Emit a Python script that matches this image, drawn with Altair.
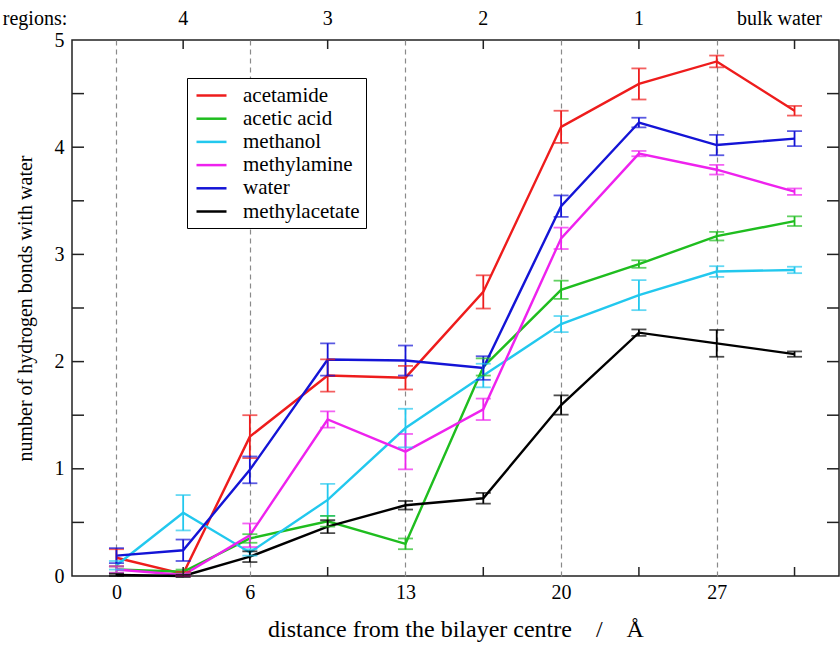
import altair as alt
import pandas as pd

# distance from the bilayer centre (Å) at which each species was sampled
distance = [0, 3, 6, 9.5, 13, 16.5, 20, 23.5, 27, 30.5]

series_names = ["acetamide", "acetic acid", "methanol", "methylamine", "water", "methylacetate"]
series_colors = ["#ee1c1c", "#1fbd1f", "#22c8ee", "#ee22ee", "#1414d6", "#000000"]

# mean number of hydrogen bonds with water and its error
acetamide = [0.17, 0.02, 1.30, 1.87, 1.85, 2.65, 4.19, 4.59, 4.80, 4.34]
acetamide_err = [0.08, 0.02, 0.20, 0.15, 0.11, 0.155, 0.15, 0.145, 0.055, 0.045]
acetic_acid = [0.06, 0.04, 0.35, 0.51, 0.30, 1.95, 2.67, 2.91, 3.17, 3.31]
acetic_acid_err = [0.03, 0.02, 0.04, 0.05, 0.05, 0.08, 0.085, 0.035, 0.04, 0.045]
methanol = [0.10, 0.59, 0.22, 0.71, 1.38, 1.87, 2.35, 2.62, 2.84, 2.855]
methanol_err = [0.04, 0.165, 0.03, 0.15, 0.18, 0.11, 0.075, 0.14, 0.05, 0.03]
methylamine = [0.06, 0.01, 0.38, 1.46, 1.16, 1.555, 3.15, 3.94, 3.79, 3.585]
methylamine_err = [0.03, 0.01, 0.11, 0.075, 0.165, 0.10, 0.10, 0.025, 0.045, 0.03]
water = [0.19, 0.24, 0.99, 2.02, 2.01, 1.94, 3.45, 4.23, 4.02, 4.08]
water_err = [0.07, 0.10, 0.125, 0.15, 0.14, 0.11, 0.10, 0.045, 0.095, 0.07]
methylacetate = [0.01, 0.00, 0.18, 0.46, 0.66, 0.725, 1.595, 2.27, 2.17, 2.07]
methylacetate_err = [0.01, 0.01, 0.05, 0.06, 0.04, 0.05, 0.09, 0.03, 0.125, 0.025]

# region boundaries (dashed) and region labels along the top
boundaries = [0, 6, 13, 20, 27]
region_centres = [3, 9.5, 16.5, 23.5]
region_labels = ["4", "3", "2", "1"]
bulk_centre = [30.5]
bulk_label = ["bulk water"]
minor_x = [3, 9.5, 16.5, 23.5, 30.5]
y_labels = [0, 1, 2, 3, 4, 5]
y_ticks = [0.5, 1, 1.5, 2, 2.5, 3, 3.5, 4, 4.5]

FONT = "'Liberation Serif', 'Times New Roman', Times, serif"
NB = "\u00a0"
W, H = 767, 536

values = [acetamide, acetic_acid, methanol, methylamine, water, methylacetate]
errors = [acetamide_err, acetic_acid_err, methanol_err, methylamine_err, water_err, methylacetate_err]

rows = []
for name, vals, errs in zip(series_names, values, errors):
    for x, v, e in zip(distance, vals, errs):
        rows.append({"series": name, "x": x, "y": v, "lo": v - e, "hi": v + e})
df = pd.DataFrame(rows)

x_scale = alt.Scale(domain=[-2, 32.5], nice=False, zero=False)
y_scale = alt.Scale(domain=[0, 5], nice=False)
color_scale = alt.Scale(domain=series_names, range=series_colors)

x_axis = alt.Axis(
    values=boundaries, ticks=False, domain=False, grid=True,
    gridDash=[5, 4], gridColor="#8a8a8a", gridWidth=1.2,
    labelFont=FONT, labelFontSize=20, labelColor="black", labelPadding=6,
    title=f"distance from the bilayer centre{NB*4}/{NB*4}Å",
    titleFont=FONT, titleFontSize=24, titleFontWeight="normal", titleColor="black",
    titlePadding=15,
)
y_axis = alt.Axis(
    values=y_labels, format="d", ticks=False, domain=False, grid=False,
    labelFont=FONT, labelFontSize=20, labelColor="black", labelPadding=8,
    title="number of hydrogen bonds with water",
    titleFont=FONT, titleFontSize=20, titleFontWeight="normal", titleColor="black",
    titlePadding=19,
)

base = alt.Chart(df)

lines = base.mark_line(strokeWidth=2.4).encode(
    x=alt.X("x:Q", scale=x_scale, axis=x_axis),
    y=alt.Y("y:Q", scale=y_scale, axis=y_axis),
    color=alt.Color(
        "series:N", scale=color_scale,
        legend=alt.Legend(
            title=None, orient="none", legendX=115, legendY=38,
            strokeColor="black", padding=6, symbolType="M-1.5,0H1.5",
            symbolSize=400, symbolStrokeWidth=2.5, symbolOffset=7,
            symbolFillColor="transparent",
            labelFont=FONT, labelFontSize=21, labelColor="black", labelOffset=20,
            rowPadding=1.2, fillColor="white",
        ),
    ),
)

bars = base.mark_rule(strokeWidth=1.8).encode(
    x="x:Q", y="lo:Q", y2="hi:Q",
    color=alt.Color("series:N", scale=color_scale, legend=None),
)
caps_lo = base.mark_tick(orient="horizontal", size=15, thickness=1.8).encode(
    x="x:Q", y="lo:Q", color=alt.Color("series:N", scale=color_scale, legend=None),
)
caps_hi = base.mark_tick(orient="horizontal", size=15, thickness=1.8).encode(
    x="x:Q", y="hi:Q", color=alt.Color("series:N", scale=color_scale, legend=None),
)

# inward ticks on all four sides of the frame
xt = pd.DataFrame({"x": minor_x})
yt = pd.DataFrame({"y": y_ticks})
tick_style = dict(color="#222", strokeWidth=1.5)
ticks_bottom = alt.Chart(xt).mark_rule(**tick_style).encode(
    x="x:Q", y=alt.value(H), y2=alt.value(H - 9))
ticks_top = alt.Chart(xt).mark_rule(**tick_style).encode(
    x="x:Q", y=alt.value(0), y2=alt.value(9))
ticks_left = alt.Chart(yt).mark_rule(**tick_style).encode(
    y="y:Q", x=alt.value(0), x2=alt.value(12))
ticks_right = alt.Chart(yt).mark_rule(**tick_style).encode(
    y="y:Q", x=alt.value(W - 12), x2=alt.value(W))

text_style = dict(font=FONT, fontSize=20, color="black", baseline="middle")
region_text = alt.Chart(pd.DataFrame({"x": region_centres, "label": region_labels})).mark_text(
    align="center", **text_style).encode(x="x:Q", y=alt.value(-21), text="label:N")
bulk_text = alt.Chart(pd.DataFrame({"x": bulk_centre, "label": bulk_label})).mark_text(
    align="center", dx=-15, **text_style).encode(x="x:Q", y=alt.value(-21), text="label:N")
regions_title = alt.Chart(pd.DataFrame({"label": ["regions:"]})).mark_text(
    align="center", **text_style).encode(x=alt.value(-37), y=alt.value(-21), text="label:N")

chart = alt.layer(
    lines, bars, caps_lo, caps_hi,
    ticks_bottom, ticks_top, ticks_left, ticks_right,
    region_text, bulk_text, regions_title,
).properties(
    width=W, height=H,
    autosize=alt.AutoSizeParams(type="none"),
    padding={"left": 72, "top": 40, "right": 1, "bottom": 73},
    background="white",
).configure(
    font=FONT,
).configure_view(
    stroke="#222", strokeWidth=1.5,
)

chart.save("out.html", embed_options={"renderer": "svg", "actions": False})
